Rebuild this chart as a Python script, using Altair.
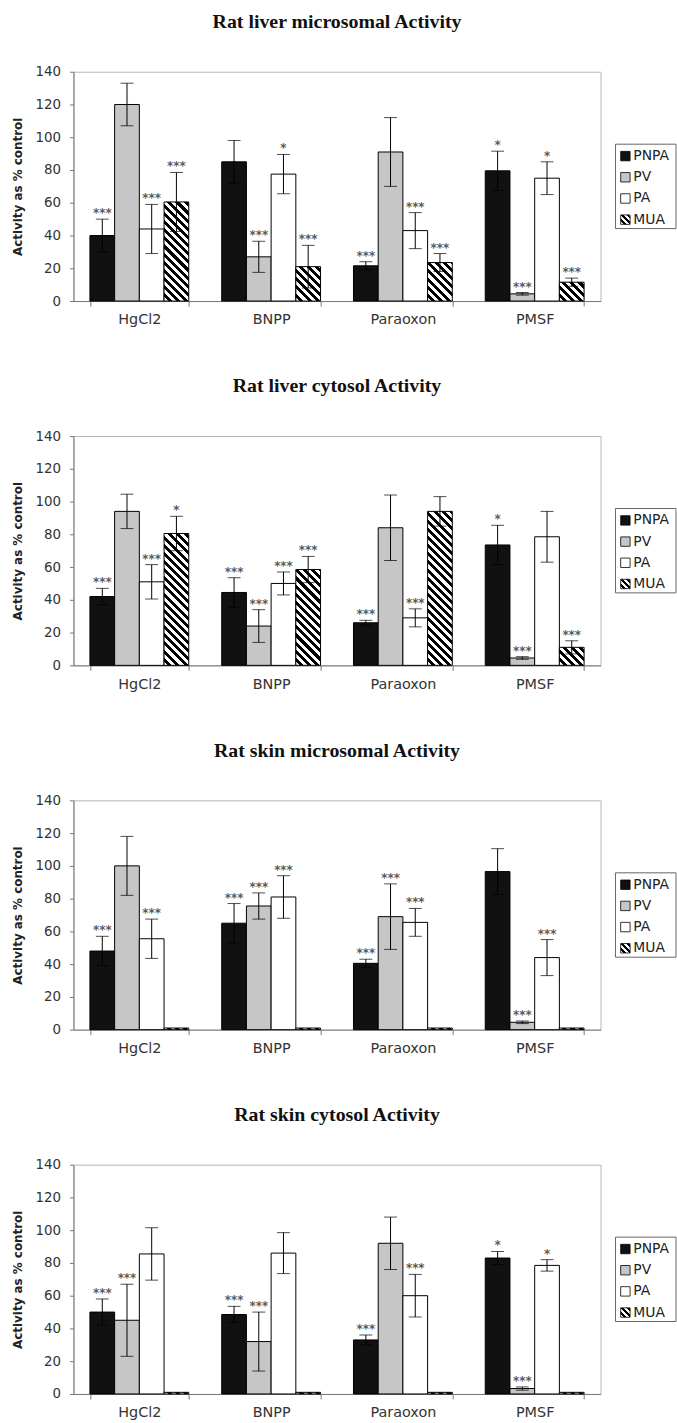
import math
import altair as alt
import pandas as pd

drugs = ["HgCl2", "BNPP", "Paraoxon", "PMSF"]
series = ["PNPA", "PV", "PA", "MUA"]
titles = [
    "Rat liver microsomal Activity",
    "Rat liver cytosol Activity",
    "Rat skin microsomal Activity",
    "Rat skin cytosol Activity",
]

# rows follow `drugs`, columns follow `series`
liver_mic_mean = [[40, 120, 44, 60.5], [85, 27, 77.5, 21], [21.5, 91, 43, 23.5], [79.5, 4.4, 75, 11.5]]
liver_mic_err = [[10, 13, 15, 18], [13, 9.5, 12, 13], [2.5, 21, 11, 5.5], [12, 0.8, 10, 2.5]]
liver_mic_sig = [["***", "", "***", "***"], ["", "***", "*", "***"], ["***", "", "***", "***"], ["*", "***", "*", "***"]]

liver_cyt_mean = [[42, 94, 51, 80.5], [44.5, 24, 50, 58.5], [26, 84, 29, 94], [73.5, 4.5, 78.5, 11]]
liver_cyt_err = [[5, 10.5, 10.5, 10.5], [9, 10, 7, 8], [1.5, 20, 5.5, 9], [12, 0.8, 15.5, 4]]
liver_cyt_sig = [["***", "", "***", "*"], ["***", "***", "***", "***"], ["***", "", "***", ""], ["*", "***", "", "***"]]

skin_mic_mean = [[48, 100, 55.5, 1], [65, 75.5, 81, 1], [40.5, 69, 65.5, 1], [96.5, 4.5, 44, 1]]
skin_mic_err = [[9, 18, 12, 0], [12, 8, 13, 0], [2.5, 20, 8.5, 0], [14, 0.8, 11, 0]]
skin_mic_sig = [["***", "", "***", ""], ["***", "***", "***", ""], ["***", "***", "***", ""], ["", "***", "***", ""]]

skin_cyt_mean = [[50, 45, 85.5, 1], [48.5, 32, 86, 1], [33, 92, 60, 1], [83, 3.3, 78.5, 1]]
skin_cyt_err = [[8, 22, 16, 0], [5, 18, 12.5, 0], [3, 16, 13, 0], [4, 1, 3.5, 0]]
skin_cyt_sig = [["***", "***", "", ""], ["***", "***", "", ""], ["***", "", "***", ""], ["*", "***", "*", ""]]

panels_data = [
    (liver_mic_mean, liver_mic_err, liver_mic_sig),
    (liver_cyt_mean, liver_cyt_err, liver_cyt_sig),
    (skin_mic_mean, skin_mic_err, skin_mic_sig),
    (skin_cyt_mean, skin_cyt_err, skin_cyt_sig),
]

W, H = 531, 231
YMAX = 140
PAD_IN, PAD_OUT = 0.25, 0.125
fill_colors = ["#111111", "#c6c6c6", "#ffffff"]
FONT = "DejaVu Sans"
TITLE_FONT = "Liberation Serif"

step = W / (len(drugs) - PAD_IN + 2 * PAD_OUT)
bar_w = step * (1 - PAD_IN) / len(series)


def hatch(w, h, period=5.8):
    """Diagonal (top-left to bottom-right) stripes for an SVG bbox gradient."""
    w = max(w, 0.5)
    h = max(h, 0.5)
    r = h / w
    k = (1 + r) / (1 + r * r)
    n = (w + h) / (math.sqrt(2) * period)
    stops = []
    i = 0
    while i / n < 1:
        a = i / n
        m = min((i + 0.5) / n, 1.0)
        b = min((i + 1) / n, 1.0)
        stops += [alt.GradientStop(offset=a, color="white"),
                  alt.GradientStop(offset=m, color="white"),
                  alt.GradientStop(offset=m, color="black"),
                  alt.GradientStop(offset=b, color="black")]
        i += 1
    return alt.LinearGradient(gradient="linear", stops=stops, x1=0, y1=1, x2=k, y2=1 - k * r)


x_axis = alt.Axis(title=None, labelAngle=0, tickBand="extent", labelFont=FONT, labelFontSize=14.5,
                  labelColor="#333333", labelPadding=7, tickSize=5, tickColor="#777777",
                  domainColor="#777777")
y_axis = alt.Axis(title="Activity as % control", values=list(range(0, 141, 20)), grid=False,
                  labelFont=FONT, labelFontSize=13.5, labelColor="#333333", labelPadding=9,
                  tickSize=4, tickColor="#777777", domainColor="#777777",
                  titleFont=FONT, titleFontSize=12, titleFontWeight="bold", titleColor="#222222",
                  titlePadding=11)


def X():
    return alt.X("drug:N", sort=drugs, scale=alt.Scale(domain=drugs, paddingInner=PAD_IN, paddingOuter=PAD_OUT),
                 axis=x_axis)


def XO():
    return alt.XOffset("series:N", sort=series, scale=alt.Scale(domain=series, paddingInner=0, paddingOuter=0))


def Yq(field):
    return alt.Y(field, type="quantitative", scale=alt.Scale(domain=[0, YMAX], nice=False, zero=True), axis=y_axis)


color_scale = alt.Scale(domain=series[:3], range=fill_colors)


def make_panel(title, mean, err, sig):
    rows = []
    for di, d in enumerate(drugs):
        for si, s in enumerate(series):
            v, e = mean[di][si], err[di][si]
            rows.append({"drug": d, "series": s, "value": v, "err": e,
                         "lo": v - e, "hi": v + e, "sig": sig[di][si]})
    df = pd.DataFrame(rows)
    base = alt.Chart(df)

    bars = base.transform_filter(alt.datum.series != "MUA").mark_bar(stroke="black", strokeWidth=1).encode(
        x=X(), xOffset=XO(), y=Yq("value"),
        color=alt.Color("series:N", scale=color_scale, legend=None),
    )
    layers = [bars]
    for di, d in enumerate(drugs):
        v = mean[di][3]
        grad = hatch(bar_w, v * H / YMAX)
        layers.append(
            base.transform_filter((alt.datum.series == "MUA") & (alt.datum.drug == d))
            .mark_bar(fill=grad, stroke="black", strokeWidth=1)
            .encode(x=X(), xOffset=XO(), y=Yq("value"))
        )
    eb = base.transform_filter(alt.datum.err > 0)
    layers.append(eb.mark_rule(color="black", strokeWidth=1).encode(
        x=X(), xOffset=XO(), y=Yq("lo"), y2="hi:Q"))
    layers.append(eb.mark_tick(color="black", thickness=1, size=13).encode(
        x=X(), xOffset=XO(), y=Yq("hi")))
    layers.append(eb.mark_tick(color="black", thickness=1, size=13).encode(
        x=X(), xOffset=XO(), y=Yq("lo")))
    layers.append(base.transform_filter(alt.datum.sig != "").mark_text(
        font=FONT, fontSize=12, fontWeight="bold", color="#5a5a5a", baseline="alphabetic", dy=-2
    ).encode(x=X(), xOffset=XO(), y=Yq("hi"), text="sig:N"))
    main = alt.layer(*layers)

    leg_df = pd.DataFrame({"series": series})
    leg_y = alt.Y("series:N", sort=series, scale=alt.Scale(domain=series, range=[85, 149], padding=0), axis=None)
    box = alt.Chart(pd.DataFrame({"k": [0]})).mark_rect(fill="white", stroke="#666666", strokeWidth=1).encode(
        x=alt.value(546), x2=alt.value(607), y=alt.value(73), y2=alt.value(158))
    squares = alt.Chart(leg_df).transform_filter(alt.datum.series != "MUA").mark_square(
        size=90, stroke="black", strokeWidth=0.8, opacity=1).encode(
        x=alt.value(556), y=leg_y, color=alt.Color("series:N", scale=color_scale, legend=None))
    mua_sq = alt.Chart(leg_df).transform_filter(alt.datum.series == "MUA").mark_square(
        size=90, stroke="black", strokeWidth=0.8, opacity=1, fill=hatch(9.5, 9.5, period=4.2)).encode(
        x=alt.value(556), y=leg_y)
    labels = alt.Chart(leg_df).mark_text(align="left", baseline="middle", font=FONT, fontSize=14,
                                         color="#222222").encode(
        x=alt.value(564), y=leg_y, text="series:N")
    legend = alt.layer(box, squares, mua_sq, labels)

    return alt.layer(main, legend).resolve_scale(y="independent").properties(
        width=W, height=H,
        title=alt.Title(title, frame="group", font=TITLE_FONT, fontSize=20, fontWeight="bold",
                        anchor="middle", offset=33, color="#111111"))


panels = [make_panel(t, *pd_) for t, pd_ in zip(titles, panels_data)]

chart = alt.vconcat(*panels, spacing=49).properties(
    padding={"left": 10, "top": 6, "right": 0, "bottom": 0}
).configure_view(stroke="#b5b5b5", strokeWidth=1)

chart.save("out.html", embed_options={"renderer": "svg", "actions": False})
